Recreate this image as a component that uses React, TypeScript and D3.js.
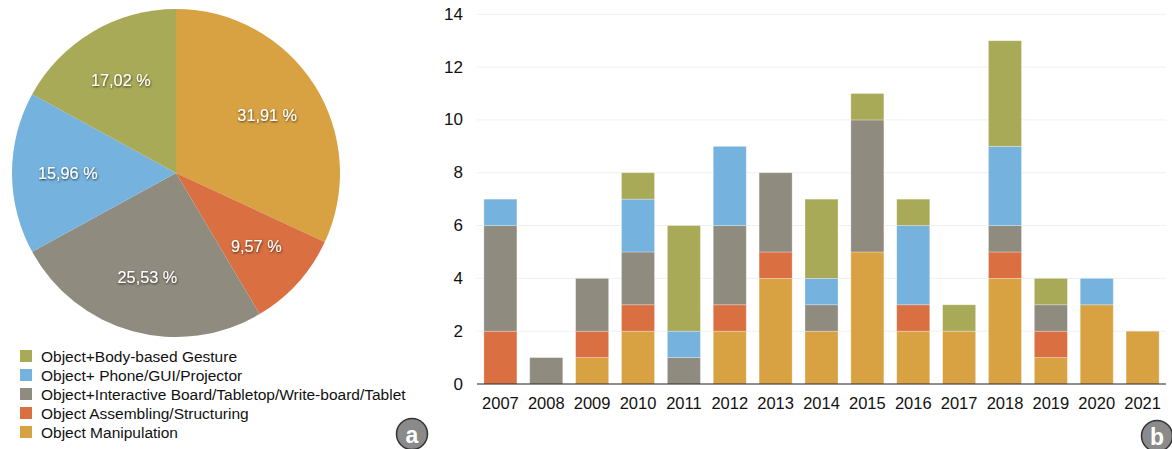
import * as d3 from "d3";

const WIDTH = 1172;
const HEIGHT = 449;

const CATEGORIES = [
  "Object Manipulation",
  "Object Assembling/Structuring",
  "Object+Interactive Board/Tabletop/Write-board/Tablet",
  "Object+ Phone/GUI/Projector",
  "Object+Body-based Gesture",
];
const COLORS = ["#D8A243", "#DA6F41", "#908B7F", "#75B2DD", "#A9AA58"];

const YEARS = [
  "2007", "2008", "2009", "2010", "2011", "2012", "2013", "2014",
  "2015", "2016", "2017", "2018", "2019", "2020", "2021",
];
const MANIPULATION = [0, 0, 1, 2, 0, 2, 4, 2, 5, 2, 2, 4, 1, 3, 2];
const ASSEMBLING = [2, 0, 1, 1, 0, 1, 1, 0, 0, 1, 0, 1, 1, 0, 0];
const BOARD = [4, 1, 2, 2, 1, 3, 3, 1, 5, 0, 0, 1, 1, 0, 0];
const PHONE = [1, 0, 0, 2, 1, 3, 0, 1, 0, 3, 0, 3, 0, 1, 0];
const GESTURE = [0, 0, 0, 1, 4, 0, 0, 3, 1, 1, 1, 4, 1, 0, 0];

const PIE_SHARES = [31.91, 9.57, 25.53, 15.96, 17.02];
const PIE_LABELS = ["31,91 %", "9,57 %", "25,53 %", "15,96 %", "17,02 %"];

const Y_TICKS = [0, 2, 4, 6, 8, 10, 12, 14];

// legend is listed top-down in reverse stacking order
const LEGEND_ORDER = [4, 3, 2, 1, 0];

const FONT = "'Liberation Sans', Arial, Helvetica, sans-serif";

function PieChart() {
  const cx = 176;
  const cy = 173;
  const r = 164;
  const pie = d3.pie<number>().sort(null).value((d) => d);
  const arcs = pie(PIE_SHARES);
  const arc = d3.arc<d3.PieArcDatum<number>>().innerRadius(0).outerRadius(r);
  const labelArc = d3
    .arc<d3.PieArcDatum<number>>()
    .innerRadius(r * 0.66)
    .outerRadius(r * 0.66);

  return (
    <g transform={`translate(${cx},${cy})`}>
      {arcs.map((a, i) => (
        <path key={i} d={arc(a) ?? ""} fill={COLORS[i]} />
      ))}
      {arcs.map((a, i) => {
        const [x, y] = labelArc.centroid(a);
        return (
          <text
            key={`l-${i}`}
            x={x}
            y={y}
            textAnchor="middle"
            dominantBaseline="central"
            fontSize={16.3}
            fontFamily={FONT}
            fill="#fff"
            filter="url(#shadow)"
          >
            {PIE_LABELS[i]}
          </text>
        );
      })}
    </g>
  );
}

function Legend() {
  const x0 = 20;
  const y0 = 356;
  const rowH = 19;
  return (
    <g>
      {LEGEND_ORDER.map((ci, i) => (
        <g key={ci} transform={`translate(${x0},${y0 + i * rowH})`}>
          <rect x={0} y={-6} width={12} height={12} fill={COLORS[ci]} />
          <text
            x={21}
            y={0}
            dominantBaseline="central"
            fontSize={15.5}
            fontFamily={FONT}
            fill="#111"
          >
            {CATEGORIES[ci]}
          </text>
        </g>
      ))}
    </g>
  );
}

function BarChart() {
  const left = 477;
  const right = 1166;
  const top = 14.3;
  const bottom = 384;

  const x = d3
    .scaleBand()
    .domain(YEARS)
    .range([left, right])
    .paddingInner(0.28)
    .paddingOuter(0.15);
  const y = d3.scaleLinear().domain([0, 14]).range([bottom, top]);

  const rows = YEARS.map((year, i) => ({
    year,
    s0: MANIPULATION[i],
    s1: ASSEMBLING[i],
    s2: BOARD[i],
    s3: PHONE[i],
    s4: GESTURE[i],
  }));
  const keys = ["s0", "s1", "s2", "s3", "s4"];
  const series = d3.stack<(typeof rows)[number]>().keys(keys)(rows);

  return (
    <g>
      {Y_TICKS.map((t) => (
        <g key={t}>
          {t > 0 && (
            <line
              x1={left}
              x2={right}
              y1={y(t)}
              y2={y(t)}
              stroke="#f0f0f0"
              strokeWidth={1}
            />
          )}
          <text
            x={463}
            y={y(t)}
            textAnchor="end"
            dominantBaseline="central"
            fontSize={17}
            fontFamily={FONT}
            fill="#111"
          >
            {t}
          </text>
        </g>
      ))}
      {series.map((s, si) =>
        s.map((d, i) =>
          d[1] - d[0] > 0 ? (
            <rect
              key={`${si}-${i}`}
              x={x(d.data.year)}
              y={y(d[1])}
              width={x.bandwidth()}
              height={y(d[0]) - y(d[1])}
              fill={COLORS[si]}
              stroke="rgba(255,255,255,0.35)"
              strokeWidth={0.8}
            />
          ) : null
        )
      )}
      <line x1={left} x2={right} y1={bottom} y2={bottom} stroke="#222" strokeWidth={1.2} />
      {YEARS.map((yr) => (
        <text
          key={yr}
          x={(x(yr) ?? 0) + x.bandwidth() / 2}
          y={403}
          textAnchor="middle"
          dominantBaseline="central"
          fontSize={16.5}
          fontFamily={FONT}
          fill="#111"
        >
          {yr}
        </text>
      ))}
    </g>
  );
}

function Badge({ cx, cy, label }: { cx: number; cy: number; label: string }) {
  return (
    <g>
      <circle cx={cx} cy={cy} r={15.5} fill="#8a8a8a" stroke="#333" strokeWidth={1.5} />
      <text
        x={cx}
        y={cy + 1}
        textAnchor="middle"
        dominantBaseline="central"
        fontSize={23}
        fontWeight="bold"
        fontFamily={FONT}
        fill="#fff"
      >
        {label}
      </text>
    </g>
  );
}

export default function App() {
  return (
    <svg
      width={WIDTH}
      height={HEIGHT}
      viewBox={`0 0 ${WIDTH} ${HEIGHT}`}
      style={{ position: "absolute", left: 0, top: 0, display: "block", background: "#fff" }}
    >
      <defs>
        <filter id="shadow" x="-20%" y="-40%" width="140%" height="180%">
          <feDropShadow dx={0.5} dy={1} stdDeviation={0.8} floodColor="#000" floodOpacity={0.7} />
        </filter>
      </defs>
      <PieChart />
      <Legend />
      <BarChart />
      <Badge cx={412} cy={434} label="a" />
      <Badge cx={1157} cy={436} label="b" />
    </svg>
  );
}
